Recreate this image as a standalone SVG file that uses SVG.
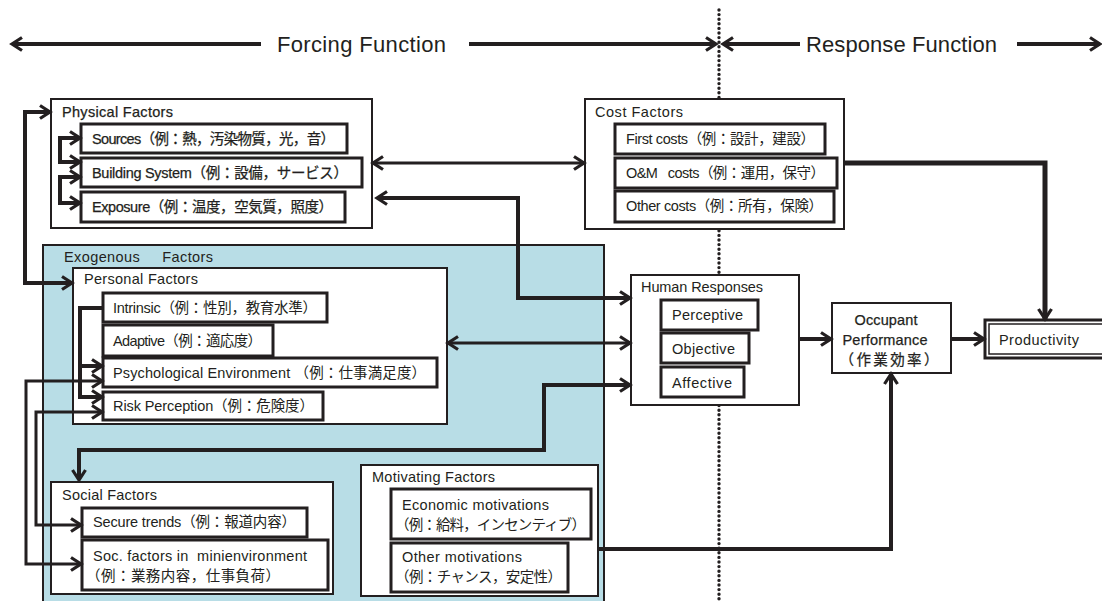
<svg xmlns="http://www.w3.org/2000/svg" width="1102" height="601" viewBox="0 0 1102 601">
<style>
.t{font-family:"Liberation Sans","Noto Sans CJK JP",sans-serif;font-size:14.5px;fill:#231f20}
.b{stroke:#231f20;stroke-width:0.25px}
.h{font-size:22px}
.box{fill:#fff;stroke:#231f20;stroke-width:2}
.ibox{fill:#fff;stroke:#231f20;stroke-width:3}
.c{fill:none;stroke:#231f20;stroke-width:4}
.c3{stroke-width:3}
.c5{stroke-width:5}
</style>
<defs>
<marker id="ah" viewBox="0 0 16 16" markerWidth="16" markerHeight="16" refX="13" refY="8" orient="auto-start-reverse" markerUnits="userSpaceOnUse">
<path d="M3,1.5 L13,8 L3,14.5" fill="none" stroke="#231f20" stroke-width="3.2"/>
</marker>
</defs>
<rect width="1102" height="601" fill="#fff"/>

<g id="header">
<text class="t h" x="277" y="52" textLength="169">Forcing Function</text>
<text class="t h" x="806" y="52" textLength="191">Response Function</text>
</g>

<g id="exogenous">
<rect x="43" y="245" width="561" height="370" fill="#b8dde6" stroke="#231f20" stroke-width="2"/>
<text class="t" x="64" y="262" textLength="149">Exogenous&#160;&#160;&#160;&#160;&#160;Factors</text>
</g>

<g id="divider">
<line x1="719" y1="10" x2="719" y2="601" stroke="#231f20" stroke-width="3.4" stroke-dasharray="0 4.6" stroke-linecap="round"/>
</g>

<g id="physical">
<rect class="box" x="51" y="99" width="321" height="129"/>
<text class="t b" x="62" y="117" textLength="111">Physical Factors</text>
<g id="sources"><rect class="ibox" x="81" y="124" width="266" height="29"/>
<text class="t b" x="92" y="144" textLength="243">Sources（例：熱，汚染物質，光，音）</text></g>
<g id="building"><rect class="ibox" x="81" y="158" width="281" height="29"/>
<text class="t b" x="92" y="178" textLength="256">Building System（例：設備，サービス）</text></g>
<g id="exposure"><rect class="ibox" x="81" y="192" width="264" height="30"/>
<text class="t b" x="92" y="212" textLength="241">Exposure（例：温度，空気質，照度）</text></g>
</g>

<g id="cost">
<rect class="box" x="585" y="99" width="259" height="130"/>
<text class="t" x="595" y="117" textLength="88">Cost Factors</text>
<g id="first"><rect class="ibox" x="615" y="124" width="210" height="30"/>
<text class="t" x="626" y="144" textLength="189">First costs（例：設計，建設）</text></g>
<g id="om"><rect class="ibox" x="615" y="158" width="222" height="30"/>
<text class="t" x="626" y="178" textLength="199">O&amp;M&#160;&#160;&#160;costs（例：運用，保守）</text></g>
<g id="other-costs"><rect class="ibox" x="615" y="191" width="219" height="31"/>
<text class="t" x="626" y="211" textLength="197">Other costs（例：所有，保険）</text></g>
</g>

<g id="personal">
<rect class="box" x="73" y="268" width="374" height="156"/>
<text class="t" x="84" y="284" textLength="114">Personal Factors</text>
<g id="intrinsic"><rect class="ibox" x="103" y="293" width="224" height="29"/>
<text class="t" x="113" y="313" textLength="204">Intrinsic（例：性別，教育水準）</text></g>
<g id="adaptive"><rect class="ibox" x="103" y="325" width="170" height="31"/>
<text class="t" x="113" y="346" textLength="149">Adaptive（例：適応度）</text></g>
<g id="psych"><rect class="ibox" x="103" y="358" width="334" height="29"/>
<text class="t" x="113" y="378" textLength="313">Psychological Environment&#160;（例：仕事満足度）</text></g>
<g id="risk"><rect class="ibox" x="103" y="392" width="220" height="28"/>
<text class="t" x="113" y="411" textLength="201">Risk Perception（例：危険度）</text></g>
</g>

<g id="social">
<rect class="box" x="51" y="482" width="282" height="112"/>
<text class="t" x="62" y="500" textLength="95">Social Factors</text>
<g id="secure"><rect class="ibox" x="82" y="508" width="225" height="29"/>
<text class="t" x="93" y="527" textLength="203">Secure trends（例：報道内容）</text></g>
<g id="socmini"><rect class="ibox" x="82" y="540" width="246" height="50"/>
<text class="t" x="93" y="561" textLength="214">Soc. factors in&#160;&#160;minienvironment</text>
<text class="t" x="86" y="581" textLength="194">（例：業務内容，仕事負荷）</text></g>
</g>

<g id="motivating">
<rect class="box" x="361" y="465" width="237" height="131"/>
<text class="t" x="372" y="482" textLength="123">Motivating Factors</text>
<g id="economic"><rect class="ibox" x="391" y="489" width="200" height="50"/>
<text class="t" x="402" y="510" textLength="147">Economic motivations</text>
<text class="t" x="395" y="530" textLength="191">（例：給料，インセンティブ）</text></g>
<g id="other-motiv"><rect class="ibox" x="391" y="543" width="177" height="49"/>
<text class="t" x="402" y="562" textLength="120">Other motivations</text>
<text class="t" x="395" y="582" textLength="167">（例：チャンス，安定性）</text></g>
</g>

<g id="human">
<rect class="box" x="631" y="275" width="168" height="130" stroke-width="2.5"/>
<text class="t" x="641" y="292" textLength="122">Human Responses</text>
<g id="perceptive"><rect class="ibox" x="661" y="300" width="97" height="30"/>
<text class="t" x="672" y="320" textLength="71">Perceptive</text></g>
<g id="objective"><rect class="ibox" x="661" y="333" width="88" height="30"/>
<text class="t" x="672" y="354" textLength="63">Objective</text></g>
<g id="affective"><rect class="ibox" x="661" y="367" width="83" height="30"/>
<text class="t" x="672" y="388" textLength="60">Affective</text></g>
</g>

<g id="occupant">
<rect class="box" x="832" y="303" width="119" height="70" stroke-width="2.5"/>
<text class="t b" x="886" y="325" text-anchor="middle" textLength="63">Occupant</text>
<text class="t b" x="885" y="345" text-anchor="middle" textLength="85">Performance</text>
<text class="t b" x="889" y="365" text-anchor="middle" textLength="99">（作業効率）</text>
</g>

<g id="productivity">
<rect x="985" y="320" width="125" height="38" fill="#fff" stroke="#231f20" stroke-width="3"/>
<rect x="989" y="324" width="125" height="30" fill="none" stroke="#231f20" stroke-width="1.5"/>
<text class="t" x="999" y="345" textLength="80">Productivity</text>
</g>

<g id="connectors">
<path class="c" d="M12,44 H261" marker-start="url(#ah)"/>
<path class="c" d="M469,44 H716" marker-end="url(#ah)"/>
<path class="c" d="M723,44 H800" marker-start="url(#ah)"/>
<path class="c" d="M1017,44 H1100" marker-end="url(#ah)"/>
<path class="c" d="M50,112 H25 V283 H72" marker-start="url(#ah)" marker-end="url(#ah)"/>
<path class="c" d="M80,138 H60 V162 H80" marker-start="url(#ah)" marker-end="url(#ah)"/>
<path class="c" d="M80,177 H60 V203 H80" marker-start="url(#ah)" marker-end="url(#ah)"/>
<path class="c c3" d="M373,163 H584" marker-start="url(#ah)" marker-end="url(#ah)"/>
<path class="c" d="M377,198 H518 V298 H630" marker-start="url(#ah)" marker-end="url(#ah)"/>
<path class="c c3" d="M448,343 H630" marker-start="url(#ah)" marker-end="url(#ah)"/>
<path class="c" d="M79,480 V450 H544 V385 H630" marker-start="url(#ah)" marker-end="url(#ah)"/>
<path class="c c5" d="M845,163 H1045 V319" marker-end="url(#ah)"/>
<path class="c" d="M800,339 H831" marker-end="url(#ah)"/>
<path class="c" d="M952,339 H984" marker-end="url(#ah)"/>
<path class="c" d="M599,549 H891 V374" marker-end="url(#ah)"/>
<path class="c" d="M103,308 H80 V397 H102" marker-end="url(#ah)"/>
<path class="c" d="M80,366 H102" marker-end="url(#ah)"/>
<path class="c c3" d="M102,381 H26 V564 H81" marker-start="url(#ah)" marker-end="url(#ah)"/>
<path class="c c3" d="M102,412 H36 V525 H81" marker-start="url(#ah)" marker-end="url(#ah)"/>
</g>
</svg>
